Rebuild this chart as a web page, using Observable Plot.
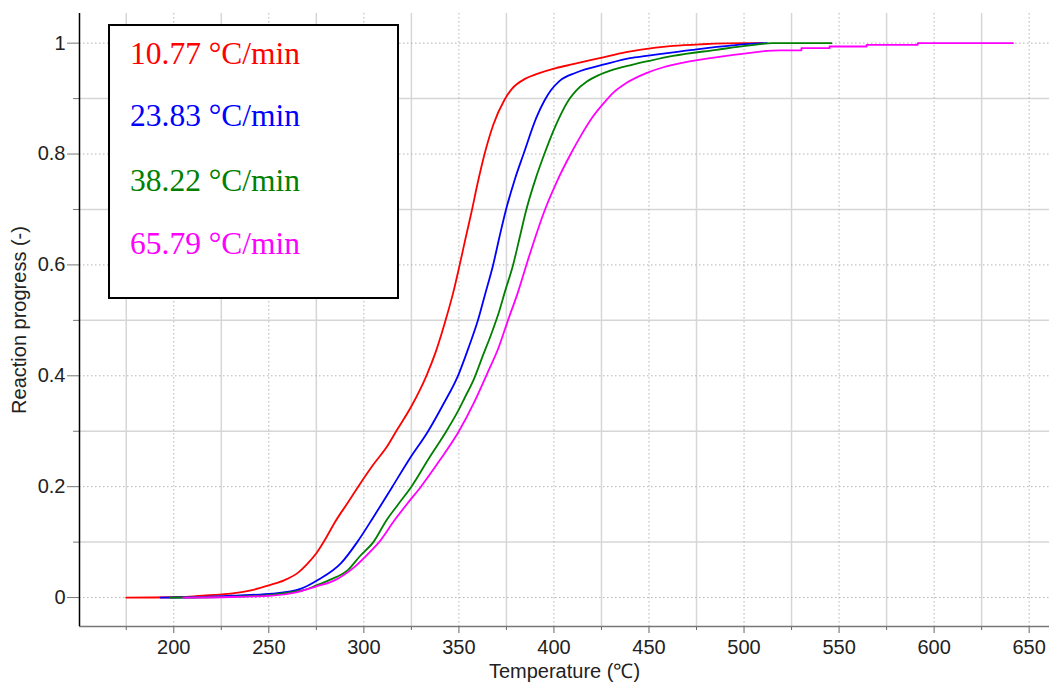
<!DOCTYPE html>
<html>
<head>
<meta charset="utf-8">
<script src="https://cdn.jsdelivr.net/npm/d3@7"></script>
<script src="https://cdn.jsdelivr.net/npm/@observablehq/plot@0.6"></script>
<style>
  html, body { margin: 0; padding: 0; background: white; }
  #wrap { position: relative; width: 1049px; height: 684px; }
  #legend {
    position: absolute; left: 108px; top: 24px; width: 291px; height: 275px;
    box-sizing: border-box; border: 2px solid black; background: white;
    font-family: "Liberation Serif", "Times New Roman", serif; font-size: 31.5px;
  }
  #legend div { position: absolute; left: 20px; line-height: 1; white-space: nowrap; }
</style>
</head>
<body>
<div id="wrap"></div>
<script>
// ---- data ----
const seriesNames = ["10.77 °C/min", "23.83 °C/min", "38.22 °C/min", "65.79 °C/min"];
const seriesColors = ["#ff0000", "#0000ff", "#008000", "#ff00ff"];

const red = [
  [175,0],[205,0.001],[217,0.004],[230,0.007],[240.6,0.013],[250,0.022],[258,0.031],
  [265.4,0.045],[270,0.06],[275,0.08],[280,0.107],[284.6,0.135],[291.7,0.172],[297,0.2],
  [305,0.24],[311.9,0.271],[317,0.3],[325,0.345],[332.9,0.4],[338,0.445],[343.4,0.505],
  [347,0.55],[350.4,0.6],[353.5,0.648],[356.6,0.695],[359.7,0.745],[363.5,0.8],[368,0.852],
  [374,0.898],[378,0.918],[385,0.936],[390.7,0.944],[401,0.955],[410,0.962],
  [424,0.973],[438,0.984],[445,0.988],[462.5,0.995],[478,0.998],[501,1.0],[510,1.0]
];
const blue = [
  [193,0],[215,0.001],[235,0.004],[252,0.007],[267,0.016],[276,0.032],[288,0.062],
  [296.5,0.1],[305,0.145],[315,0.2],[324,0.25],[333.8,0.3],[342,0.35],[349.5,0.4],
  [355,0.45],[360,0.5],[364,0.55],[368,0.6],[371.3,0.65],[374.8,0.7],[379.2,0.752],
  [384,0.8],[390.8,0.866],[395.1,0.897],[398.4,0.915],[403,0.932],[411.8,0.947],
  [427,0.962],[440,0.973],[448.6,0.977],[473,0.988],[494,0.996],[505,0.999],[512,1.0]
];
const green = [
  [198,0],[225,0.001],[249,0.004],[262,0.01],[269,0.014],[275,0.022],[282,0.032],
  [291.7,0.05],[298,0.075],[305,0.1],[312,0.14],[318,0.168],[325,0.2],[334,0.25],
  [343.4,0.3],[349,0.333],[353,0.36],[358,0.395],[363,0.44],[367,0.475],[370.6,0.51],
  [374.5,0.555],[378.5,0.6],[382,0.65],[385.5,0.7],[390.5,0.757],[395.5,0.805],
  [399.5,0.84],[403,0.867],[408.3,0.9],[411.8,0.915],[417,0.93],[424,0.943],[430,0.951],
  [441,0.961],[450,0.968],[462.6,0.977],[485.5,0.988],[503,0.996],[515,1.0],[546,1.0]
];
const magenta = [
  [205,0],[230,0.001],[250,0.003],[265,0.01],[275,0.02],[284.6,0.031],[295,0.055],
  [304,0.085],[308,0.1],[316,0.139],[323,0.17],[330,0.2],[340,0.248],[350,0.3],
  [358,0.352],[365,0.405],[371,0.452],[375.8,0.5],[381,0.55],[385.5,0.6],[390.2,0.65],
  [395.3,0.7],[401.5,0.75],[408.8,0.8],[414.5,0.835],[420.6,0.868],[427,0.895],
  [431,0.91],[438,0.928],[448.6,0.946],[458,0.957],[468,0.965],[490.7,0.977],[511.7,0.986]
];
const magentaTail = [
  [511.7,0.986],[518.8,0.987],[530.2,0.987],[530.2,0.991],[545,0.991],[545,0.994],
  [564.5,0.994],[564.5,0.997],[591.4,0.997],[591.4,1.0],[641.5,1.0]
];

const xMajor = [200,250,300,350,400,450,500,550,600,650];
const xMinor = [175,225,275,325,375,425,475,525,575,625];
const yMajor = [0,0.2,0.4,0.6,0.8,1];
const yMinor = [0.1,0.3,0.5,0.7,0.9];
const xDomain = [150.4, 660.7];
const yDomain = [-0.0522, 1.0535];

const toRows = (arr, i) => arr.map(([T, a]) => ({T, a, s: seriesNames[i]}));
const rows = [red, blue, green, magenta].flatMap(toRows);
const tailRows = toRows(magentaTail, 3);

const font = "'Liberation Sans', Arial, sans-serif";

const chart = Plot.plot({
  width: 1049, height: 684,
  marginLeft: 79, marginRight: 0, marginTop: 13, marginBottom: 58,
  x: {domain: xDomain},
  y: {domain: yDomain},
  color: {domain: seriesNames, range: seriesColors},
  style: {fontFamily: font, fontSize: "20px", background: "white", color: "#222"},
  marks: [
    Plot.ruleX(xMinor, {stroke: "#d6d6d6", strokeWidth: 1.5}),
    Plot.ruleY(yMinor, {stroke: "#d6d6d6", strokeWidth: 1.5}),
    Plot.ruleX(xMajor, {stroke: "#b4b4b4", strokeDasharray: "1.5,2.5"}),
    Plot.ruleY(yMajor, {stroke: "#b4b4b4", strokeDasharray: "1.5,2.5"}),
    Plot.line(rows, {x: "T", y: "a", z: "s", stroke: "s", strokeWidth: 1.8, curve: "monotone-x"}),
    Plot.line(tailRows, {x: "T", y: "a", z: "s", stroke: "s", strokeWidth: 1.8, curve: "linear"}),
    Plot.axisX(xMajor, {tickSize: 7, tickPadding: 6, stroke: "#666", fill: "#222",
      fontSize: 20, fontFamily: font, tickFormat: d => String(d),
      label: "Temperature (℃)", labelArrow: "none", labelAnchor: "center", labelOffset: 51}),
    Plot.axisX(xMinor, {tickSize: 4, tickFormat: () => "", stroke: "#666", label: null}),
    Plot.axisY(yMajor, {tickSize: 12, tickPadding: 2, stroke: "#777", fill: "#222",
      fontSize: 20, fontFamily: font, tickFormat: d => String(d),
      label: "Reaction progress (-)", labelArrow: "none", labelAnchor: "center", labelOffset: 68}),
    Plot.axisY(yMinor, {tickSize: 6, tickFormat: () => "", stroke: "#777", label: null}),
    Plot.ruleY([yDomain[0]], {stroke: "#777", strokeWidth: 1.5}),
    Plot.ruleX([xDomain[0]], {stroke: "#000", strokeWidth: 1.5})
  ]
});

const wrap = document.getElementById("wrap");
wrap.appendChild(chart);

const legend = document.createElement("div");
legend.id = "legend";
const tops = [12, 74, 139, 202];
seriesNames.forEach((name, i) => {
  const d = document.createElement("div");
  d.textContent = name;
  d.style.color = seriesColors[i];
  d.style.top = tops[i] + "px";
  legend.appendChild(d);
});
wrap.appendChild(legend);
</script>
</body>
</html>
